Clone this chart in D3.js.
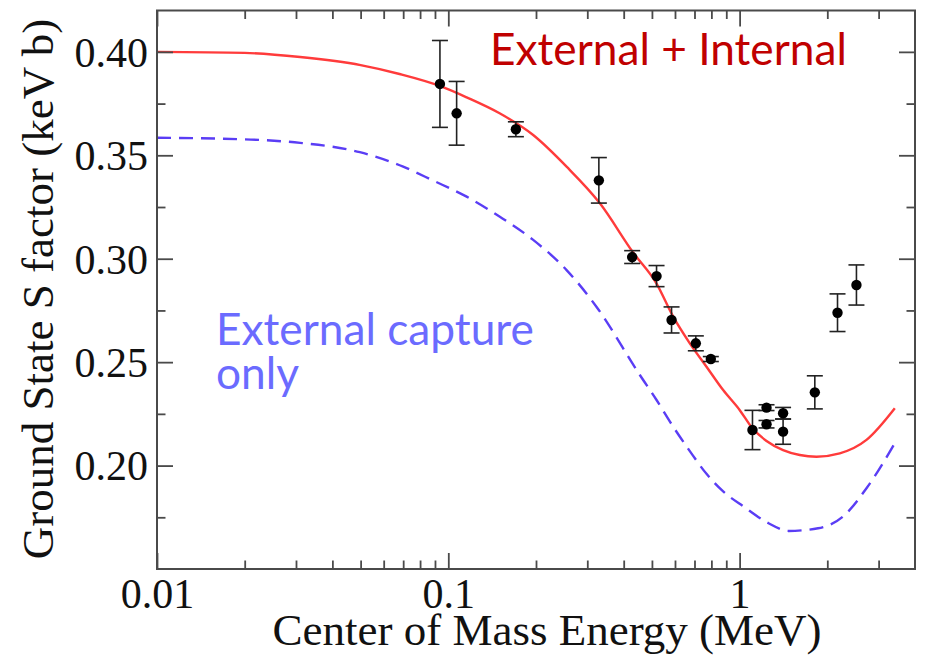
<!DOCTYPE html>
<html><head><meta charset="utf-8">
<script src="https://cdn.jsdelivr.net/npm/d3@7"></script>
<style>body{margin:0;background:#fff}svg{display:block}</style>
</head><body>
<svg id="c" width="927" height="656"></svg>
<script>
// External + Internal (red solid curve)
const redEnergy  = [0.01, 0.02, 0.031, 0.05, 0.068, 0.094, 0.1156, 0.15, 0.1956, 0.2547, 0.3314, 0.431, 0.5186, 0.5916, 0.6746, 0.7697, 0.878, 1.0, 1.107, 1.237, 1.41, 1.609, 1.836, 2.207, 2.726, 3.41];
const redSfactor = [0.4000, 0.3995, 0.3975, 0.3936, 0.3893, 0.3834, 0.3780, 0.3703, 0.3598, 0.3445, 0.3268, 0.3030, 0.2880, 0.2720, 0.2591, 0.2478, 0.2365, 0.2269, 0.2180, 0.2119, 0.2075, 0.2051, 0.2043, 0.2059, 0.2124, 0.2277];
// External capture only (blue dashed curve)
const blueEnergy  = [0.01, 0.021, 0.031, 0.0497, 0.07, 0.0887, 0.1156, 0.1503, 0.1956, 0.2547, 0.3224, 0.4545, 0.5186, 0.5916, 0.6746, 0.7697, 0.878, 1.034, 1.257, 1.471, 1.859, 2.261, 2.75, 3.41];
const blueSfactor = [0.3585, 0.3576, 0.3560, 0.3515, 0.3445, 0.3378, 0.3300, 0.3203, 0.3091, 0.2945, 0.2768, 0.2438, 0.2317, 0.2188, 0.2070, 0.1960, 0.1875, 0.1801, 0.1721, 0.1684, 0.1697, 0.1753, 0.1898, 0.2108];
// Measured data points
const dataEnergy  = [0.0936, 0.1068, 0.1706, 0.3287, 0.4277, 0.5186, 0.5839, 0.7074, 0.7965, 1.107, 1.237, 1.237, 1.41, 1.41, 1.812, 2.168, 2.518];
const dataSfactor = [0.3845, 0.3703, 0.3626, 0.3379, 0.3008, 0.2916, 0.2704, 0.2591, 0.2515, 0.2172, 0.2280, 0.2200, 0.2253, 0.2164, 0.2354, 0.2739, 0.2873];
const dataError   = [0.0210, 0.0154, 0.0036, 0.0110, 0.0031, 0.0051, 0.0063, 0.0036, 0.0012, 0.0095, 0.0014, 0.0018, 0.0028, 0.0061, 0.0080, 0.0091, 0.0097];

const xMajorTicks = [0.01, 0.1, 1];
const xTickLabels = ["0.01", "0.1", "1"];
const xMinorTicks = [0.02,0.03,0.04,0.05,0.06,0.07,0.08,0.09,0.2,0.3,0.4,0.5,0.6,0.7,0.8,0.9,2,3];
const yMajorTicks = [0.20, 0.25, 0.30, 0.35, 0.40];
const yTickLabels = ["0.20", "0.25", "0.30", "0.35", "0.40"];
const yMinorTicks = [0.175, 0.225, 0.275, 0.325, 0.375];

const xTitle = "Center of Mass Energy (MeV)";
const yTitle = "Ground State S factor (keV b)";
const labelRed = "External + Internal";
const labelBlue = ["External capture", "only"];

const svg = d3.select("#c");
const L = 157, R = 915, T = 10.5, B = 569;
const x = d3.scaleLog().domain([0.01, 4]).range([L, R]);
const y = d3.scaleLinear().domain([0.15, 0.42]).range([B, T]);

const frameColor = "#4a4a4a";
const serif = "'Liberation Serif','Times New Roman',serif";

// Curves
const line = d3.line().x(d => x(d[0])).y(d => y(d[1])).curve(d3.curveMonotoneX);
svg.append("path").datum(blueEnergy.map((e,i)=>[e, blueSfactor[i]]))
  .attr("d", line).attr("fill","none").attr("stroke","#5a3df5")
  .attr("stroke-width",2.4).attr("stroke-dasharray","14,8");
svg.append("path").datum(redEnergy.map((e,i)=>[e, redSfactor[i]]))
  .attr("d", line).attr("fill","none").attr("stroke","#ff3b3b")
  .attr("stroke-width",2.4);

// Axes (ticks inward)
function styleAxis(g){
  g.attr("font-family", null).attr("font-size", null);
  g.select(".domain").remove();
  g.selectAll(".tick line").attr("stroke", frameColor).attr("stroke-width",1.8);
  g.selectAll(".tick text").attr("fill","#111").style("font-family", serif).style("font-size","42px");
}
const gB = svg.append("g").attr("transform",`translate(0,${B})`)
  .call(d3.axisBottom(x).tickValues(xMajorTicks).tickSize(-16).tickPadding(9).tickFormat((d,i)=>xTickLabels[i]));
styleAxis(gB);
const gBm = svg.append("g").attr("transform",`translate(0,${B})`)
  .call(d3.axisBottom(x).tickValues(xMinorTicks).tickSize(-8.5).tickFormat(""));
styleAxis(gBm);
const gT = svg.append("g").attr("transform",`translate(0,${T})`)
  .call(d3.axisTop(x).tickValues(xMajorTicks).tickSize(-16).tickFormat(""));
styleAxis(gT);
const gTm = svg.append("g").attr("transform",`translate(0,${T})`)
  .call(d3.axisTop(x).tickValues(xMinorTicks).tickSize(-8.5).tickFormat(""));
styleAxis(gTm);
const gL = svg.append("g").attr("transform",`translate(${L},0)`)
  .call(d3.axisLeft(y).tickValues(yMajorTicks).tickSize(-16).tickPadding(9).tickFormat((d,i)=>yTickLabels[i]));
styleAxis(gL);
gL.selectAll(".tick text").attr("dy","0.34em");
const gLm = svg.append("g").attr("transform",`translate(${L},0)`)
  .call(d3.axisLeft(y).tickValues(yMinorTicks).tickSize(-8.5).tickFormat(""));
styleAxis(gLm);
const gR = svg.append("g").attr("transform",`translate(${R},0)`)
  .call(d3.axisRight(y).tickValues(yMajorTicks).tickSize(-16).tickFormat(""));
styleAxis(gR);
const gRm = svg.append("g").attr("transform",`translate(${R},0)`)
  .call(d3.axisRight(y).tickValues(yMinorTicks).tickSize(-8.5).tickFormat(""));
styleAxis(gRm);

// Frame
svg.append("rect").attr("x",L).attr("y",T).attr("width",R-L).attr("height",B-T)
  .attr("fill","none").attr("stroke",frameColor).attr("stroke-width",2);

// Error bars and points
const pts = dataEnergy.map((e,i)=>({e, s:dataSfactor[i], err:dataError[i]}));
const eb = svg.append("g").attr("stroke","#222").attr("stroke-width",1.6);
pts.forEach(p=>{
  const cx = x(p.e), y1 = y(p.s + p.err), y2 = y(p.s - p.err);
  eb.append("line").attr("x1",cx).attr("x2",cx).attr("y1",y1).attr("y2",y2);
  eb.append("line").attr("x1",cx-8).attr("x2",cx+8).attr("y1",y1).attr("y2",y1);
  eb.append("line").attr("x1",cx-8).attr("x2",cx+8).attr("y1",y2).attr("y2",y2);
});
svg.append("g").selectAll("circle").data(pts).join("circle")
  .attr("cx",d=>x(d.e)).attr("cy",d=>y(d.s)).attr("r",5.2).attr("fill","#000");

// Axis titles
svg.append("text").attr("x",547).attr("y",645).attr("text-anchor","middle")
  .style("font-family",serif).style("font-size","45px").attr("fill","#111").text(xTitle);
svg.append("text").attr("transform",`translate(53,289) rotate(-90)`).attr("text-anchor","middle")
  .style("font-family",serif).style("font-size","45px").attr("fill","#111").text(yTitle);

// Annotations
const sans = "Lato, 'Open Sans', sans-serif";
const tRed = svg.append("text").attr("x",490).attr("y",65)
  .style("font-family",sans).style("font-size","46px").attr("fill","#c00000").text(labelRed);
const w = tRed.node().getComputedTextLength();
const fs = 46 * 357 / w;
tRed.style("font-size", fs + "px");
const tBlue = svg.append("text").style("font-family",sans).style("font-size",fs+"px").attr("fill","#6b6bff");
tBlue.append("tspan").attr("x",216).attr("y",345).text(labelBlue[0]);
tBlue.append("tspan").attr("x",216).attr("y",388.5).text(labelBlue[1]);
</script>
</body></html>
